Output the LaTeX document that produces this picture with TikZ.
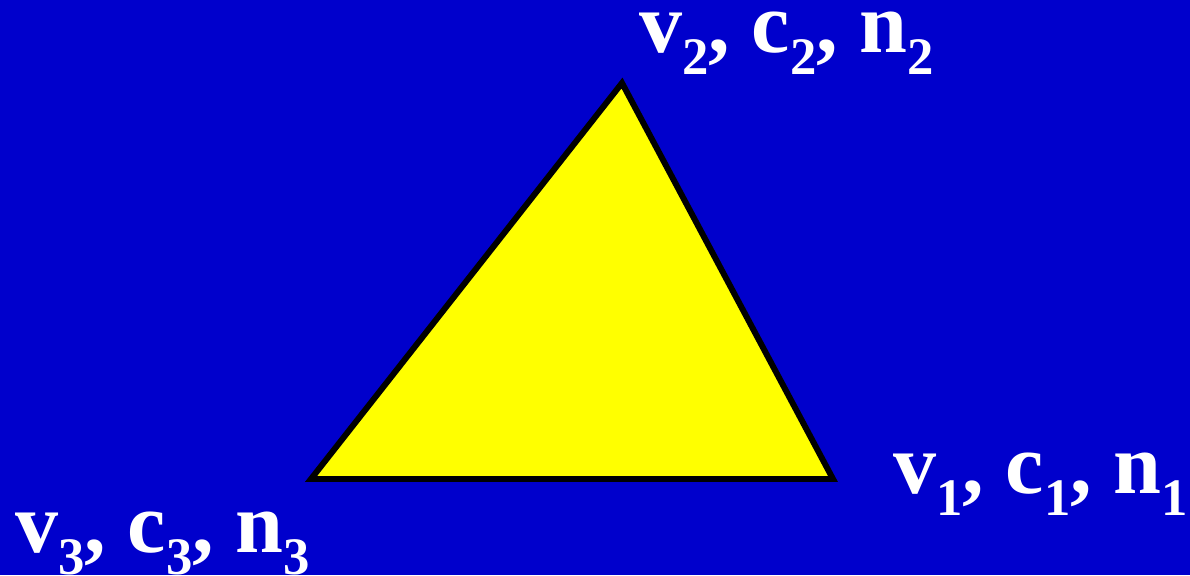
\documentclass[tikz,border=0pt]{standalone}
\usepackage{fontspec}
\setmainfont{Liberation Serif}
\definecolor{bgblue}{RGB}{0,0,204}
\definecolor{triyellow}{RGB}{255,255,0}
\newcommand\lbsub[1]{\raisebox{-13pt}{\fontsize{30pt}{34pt}\selectfont #1}}
\tikzset{
  vlabel/.style={anchor=base west, inner sep=0pt, text=white, font=\fontsize{49pt}{56pt}\selectfont\bfseries},
  tri/.style={draw=black, fill=triyellow, line width=3.4pt, line join=miter}
}
\begin{document}
\begin{tikzpicture}[x=0.02cm,y=-0.02cm]
\fill[bgblue] (0,0) rectangle (1190,575);
\useasboundingbox (0,0) rectangle (1190,575);
\coordinate (p2) at (622,83);
\coordinate (p3) at (311,479);
\coordinate (p1) at (833,479);
\draw[tri] (p1) -- (p2) -- (p3) -- cycle;
\node[vlabel] (l2) at (639,52) {v\lbsub{2}, c\lbsub{2}, n\lbsub{2}};
\node[vlabel] (l1) at (893,493) {v\lbsub{1}, c\lbsub{1}, n\lbsub{1}};
\node[vlabel] (l3) at (15,552) {v\lbsub{3}, c\lbsub{3}, n\lbsub{3}};
\end{tikzpicture}
\end{document}
